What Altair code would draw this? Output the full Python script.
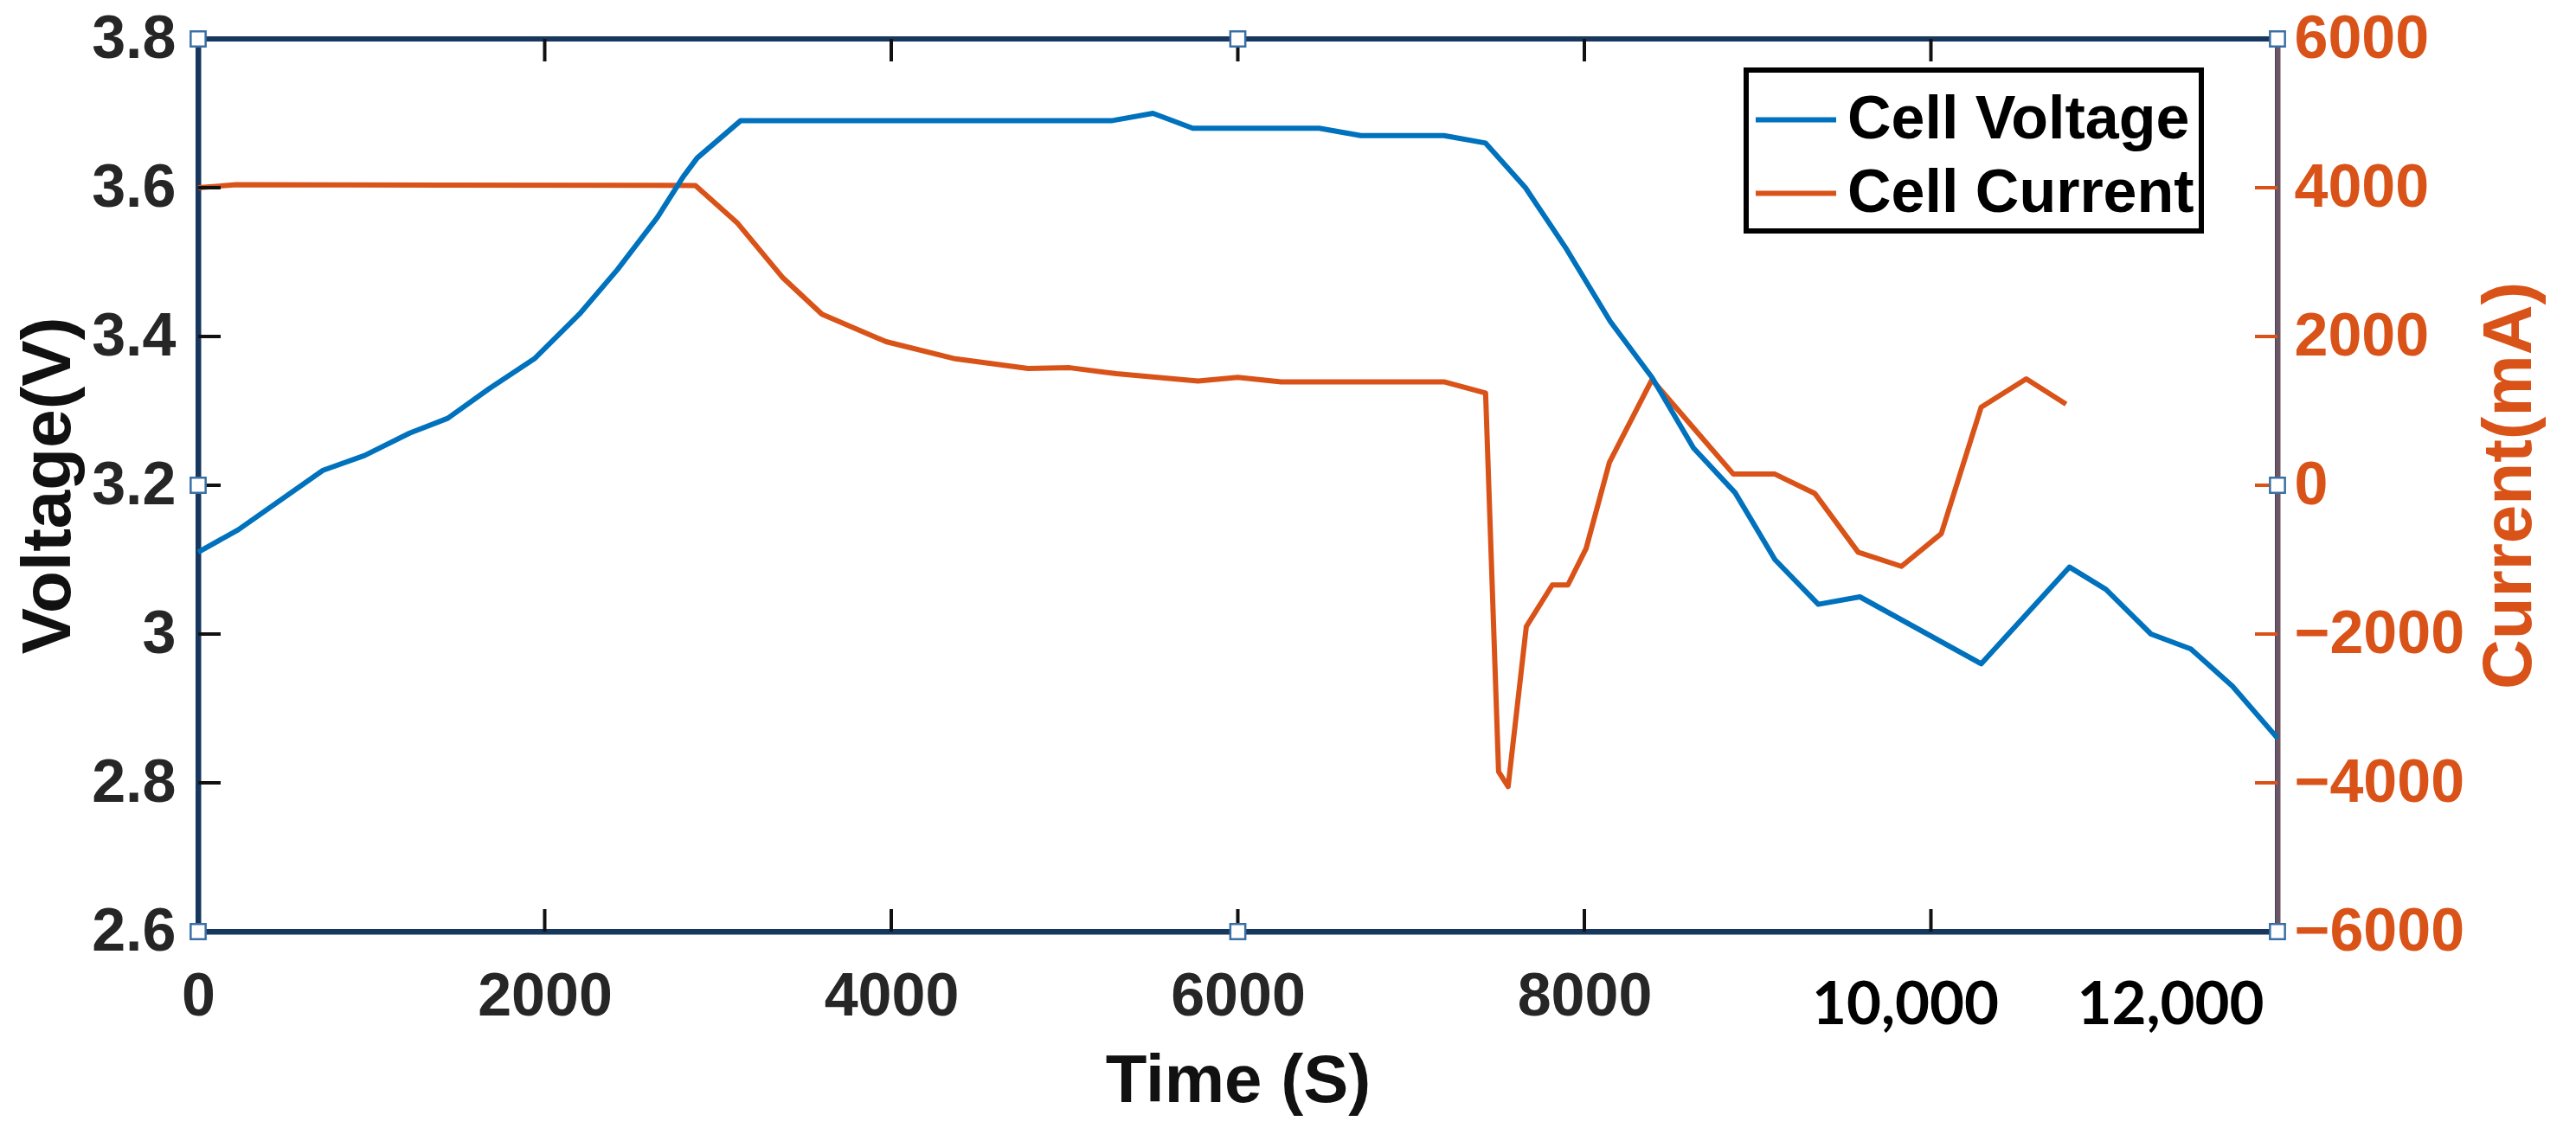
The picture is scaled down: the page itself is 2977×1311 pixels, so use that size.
import altair as alt
import pandas as pd

# ---------------- data ----------------
series_names = ["Cell Voltage", "Cell Current"]

volt_time = [0, 230, 720, 960, 1220, 1440, 1680, 1940, 2200, 2420,
             2650, 2800, 2880, 3130, 5270, 5510, 5740, 6470, 6710, 7190,
             7430, 7660, 7890, 8150, 8390, 8630, 8870, 9100, 9350, 9590,
             10290, 10800, 11010, 11270, 11500, 11740, 12000]
volt_values = [3.11, 3.14, 3.22, 3.24, 3.27, 3.29, 3.33, 3.37, 3.43, 3.49,
               3.56, 3.615, 3.64, 3.69, 3.69, 3.70, 3.68, 3.68, 3.67, 3.67,
               3.66, 3.60, 3.52, 3.42, 3.345, 3.25, 3.19, 3.10, 3.04, 3.05,
               2.96, 3.09, 3.06, 3.00, 2.98, 2.93, 2.86]

cur_time = [0, 220, 2870, 3110, 3370, 3600, 3970, 4370, 4790, 5030,
            5300, 5770, 6000, 6250, 7190, 7430, 7505, 7560, 7665, 7815,
            7905, 8010, 8145, 8390, 8630, 8860, 9100, 9330, 9580, 9830,
            10060, 10290, 10550, 10780]
cur_values = [4000, 4040, 4030, 3530, 2800, 2300, 1930, 1700, 1570, 1580,
              1500, 1400, 1450, 1390, 1390, 1240, -3850, -4050, -1900, -1340,
              -1340, -850, 310, 1420, 770, 150, 150, -110, -900, -1090,
              -650, 1050, 1430, 1090]

time_ticks = [0, 2000, 4000, 6000, 8000, 10000, 12000]
time_inner_ticks = [2000, 4000, 6000, 8000, 10000]
volt_ticks = [2.6, 2.8, 3.0, 3.2, 3.4, 3.6, 3.8]
volt_inner_ticks = [2.8, 3.0, 3.2, 3.4, 3.6]
cur_ticks = [-6000, -4000, -2000, 0, 2000, 4000, 6000]
cur_inner_ticks = [-4000, -2000, 0, 2000, 4000]

handle_time = [0, 6000, 12000, 0, 12000, 0, 6000, 12000]
handle_volt = [3.8, 3.8, 3.8, 3.2, 3.2, 2.6, 2.6, 2.6]

# ---------------- styling ----------------
W, H = 2403, 1032
BLUE = "#0072BD"
ORANGE = "#D95319"
NAVY = "#17375e"
RIGHT_AX = "#6d5563"
FONT = "Liberation Sans"
TICK_LEN = 26

volt_df = pd.DataFrame({"Time": volt_time, "Voltage": volt_values, "Series": series_names[0]})
cur_df = pd.DataFrame({"Time": cur_time, "Current": cur_values, "Series": series_names[1]})
xt_df = pd.DataFrame({"Time": time_inner_ticks})
vt_df = pd.DataFrame({"Voltage": volt_inner_ticks})
ct_df = pd.DataFrame({"Current": cur_inner_ticks})
hd_df = pd.DataFrame({"Time": handle_time, "Voltage": handle_volt})

legend = alt.Legend(
    title=None, orient="none", legendX=1789, legendY=36,
    symbolType="stroke", symbolSize=8649, symbolStrokeWidth=6,
    labelFontSize=70, labelFont=FONT, labelFontWeight="bold", labelColor="black",
    strokeColor="black", fillColor="white", padding=8, rowPadding=0,
    labelOffset=10, labelLimit=0,
)
color = alt.Color("Series:N", scale=alt.Scale(domain=series_names, range=[BLUE, ORANGE]), legend=legend)

x_scale = alt.Scale(domain=[0, 12000], nice=False, zero=False)
x_axis = alt.Axis(
    title="Time (S)", values=time_ticks, grid=False, ticks=False, tickSize=0,
    labelExpr="datum.value >= 10000 ? format(datum.value, ',') : format(datum.value, 'd')",
    labelFont={"condition": {"test": "datum.value >= 10000", "value": "Lato"}, "value": FONT},
    labelFontSize={"condition": {"test": "datum.value >= 10000", "value": 69}, "value": 70},
    labelColor={"condition": {"test": "datum.value >= 10000", "value": "#000000"}, "value": "#262626"},
    labelPadding={"condition": {"test": "datum.value >= 10000", "value": 106}, "value": 96},
    labelOffset={"condition": [{"test": "datum.value == 10000", "value": -30},
                               {"test": "datum.value == 12000", "value": -124}], "value": 0},
    labelBaseline="alphabetic", labelAlign="center", labelFlush=False, labelOverlap=False,
    labelFontWeight="bold", labelLimit=0,
    domainColor=NAVY, domainWidth=6,
    titleFont=FONT, titleFontSize=78, titleFontWeight="bold", titleColor="#111111",
    titleX=W / 2, titleY=196, titleBaseline="alphabetic", titleAlign="center",
)

v_axis = alt.Axis(
    title="Voltage(V)", orient="left", values=volt_ticks, format=".1~f", grid=False,
    ticks=False, tickSize=0, labelPadding=26, labelFont=FONT, labelFontSize=70,
    labelFontWeight="bold", labelColor="#262626", labelOverlap=False, labelLimit=0,
    domainColor=NAVY, domainWidth=6,
    titleFont=FONT, titleFontSize=80, titleFontWeight="bold", titleColor="#111111",
    titleAngle=270, titleX=-149, titleY=H / 2, titleBaseline="alphabetic", titleAlign="center",
)

c_axis = alt.Axis(
    title="Current(mA)", orient="right", values=cur_ticks, format="d", grid=False,
    ticks=False, tickSize=0, labelPadding=19, labelFont=FONT, labelFontSize=70,
    labelFontWeight="bold", labelColor=ORANGE, labelOverlap=False, labelLimit=0,
    domainColor=RIGHT_AX, domainWidth=6,
    titleFont=FONT, titleFontSize=80, titleFontWeight="bold", titleColor=ORANGE,
    titleAngle=270, titleX=292, titleY=H / 2, titleBaseline="alphabetic", titleAlign="center",
)

v_scale = alt.Scale(domain=[2.6, 3.8], nice=False, zero=False)
c_scale = alt.Scale(domain=[-6000, 6000], nice=False, zero=False)

volt_line = alt.Chart(volt_df).mark_line(strokeWidth=6, strokeJoin="round").encode(
    x=alt.X("Time:Q", scale=x_scale, axis=x_axis),
    y=alt.Y("Voltage:Q", scale=v_scale, axis=v_axis),
    color=color,
)
bottom_ticks = alt.Chart(xt_df).mark_rule(color="#111111", strokeWidth=4).encode(
    x=alt.X("Time:Q"), y=alt.value(H), y2=alt.value(H - TICK_LEN)
)
top_ticks = alt.Chart(xt_df).mark_rule(color="#111111", strokeWidth=4).encode(
    x=alt.X("Time:Q"), y=alt.value(0), y2=alt.value(TICK_LEN)
)
left_ticks = alt.Chart(vt_df).mark_rule(color="#111111", strokeWidth=4).encode(
    y=alt.Y("Voltage:Q"), x=alt.value(0), x2=alt.value(TICK_LEN)
)
handles = alt.Chart(hd_df).mark_square(
    filled=True, fill="white", stroke="#3a6fa5", strokeWidth=2.5, size=300, opacity=1
).encode(x=alt.X("Time:Q"), y=alt.Y("Voltage:Q"))

left_layer = alt.layer(bottom_ticks, top_ticks, left_ticks, volt_line, handles)

cur_line = alt.Chart(cur_df).mark_line(strokeWidth=6, strokeJoin="round").encode(
    x=alt.X("Time:Q", scale=x_scale, axis=x_axis),
    y=alt.Y("Current:Q", scale=c_scale, axis=c_axis),
    color=color,
)
right_ticks = alt.Chart(ct_df).mark_rule(color=ORANGE, strokeWidth=4).encode(
    y=alt.Y("Current:Q"), x=alt.value(W - TICK_LEN), x2=alt.value(W)
)
right_layer = alt.layer(right_ticks, cur_line)

chart = (
    alt.layer(right_layer, left_layer)
    .resolve_scale(y="independent")
    .properties(
        width=W, height=H, autosize=alt.AutoSizeParams(type="none"),
        padding={"left": 221, "top": 37, "right": 330, "bottom": 220},
        background="white",
    )
    .configure_view(stroke=NAVY, strokeWidth=6)
    .configure_legend(strokeWidth=6)
)

chart.save("out.html", embed_options={"renderer": "svg", "actions": False})
